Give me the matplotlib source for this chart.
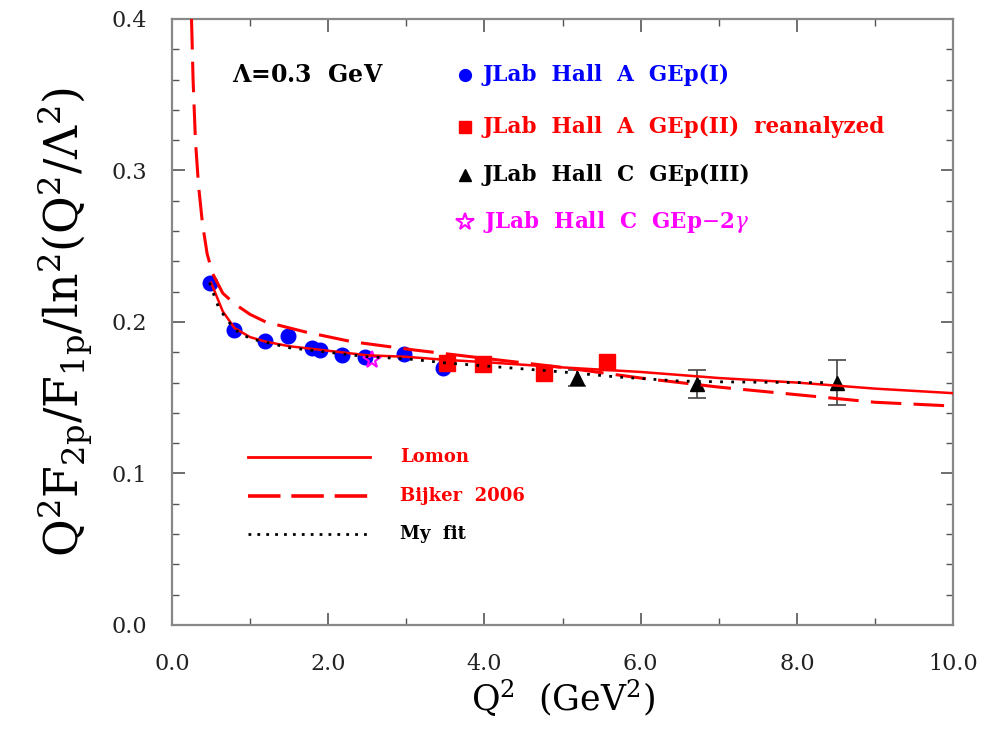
import numpy as np
import matplotlib.pyplot as plt
from matplotlib.ticker import MultipleLocator, FormatStrFormatter

plt.rcParams['mathtext.fontset'] = 'dejavuserif'
plt.rcParams['font.family'] = 'DejaVu Serif'

# data
gep1_q2 = [0.49, 0.79, 1.19, 1.49, 1.79, 1.90, 2.18, 2.47, 2.97, 3.47]
gep1_r = [0.226, 0.195, 0.1875, 0.191, 0.183, 0.1815, 0.178, 0.177, 0.179, 0.1696]

gep2_q2 = [3.52, 3.98, 4.76, 5.57]
gep2_r = [0.173, 0.172, 0.166, 0.1736]

gep3_q2 = [5.19, 6.72, 8.51]
gep3_r = [0.163, 0.159, 0.160]
gep3_err = [0.005, 0.0095, 0.015]

gep2g_q2 = [2.56]
gep2g_r = [0.175]

lomon_q2 = [0.5, 0.65, 0.8, 1.0, 1.2, 1.5, 2.0, 2.5, 3.0, 3.5, 4.0, 5.0, 6.0, 7.0, 8.0, 9.0, 10.0]
lomon_r = [0.226, 0.207, 0.196, 0.190, 0.187, 0.184, 0.181, 0.178, 0.177, 0.175, 0.1735,
           0.170, 0.167, 0.163, 0.160, 0.156, 0.153]

bijker_q2 = [0.25, 0.27, 0.30, 0.34, 0.39, 0.45, 0.52, 0.65, 0.8, 1.0, 1.2, 1.7, 2.3, 3.1,
             4.0, 5.0, 6.0, 7.0, 8.0, 9.0, 10.0]
bijker_r = [0.40, 0.36, 0.32, 0.29, 0.265, 0.245, 0.232, 0.219, 0.212, 0.205, 0.200, 0.1935,
            0.187, 0.1815, 0.176, 0.170, 0.163, 0.157, 0.152, 0.147, 0.1445]

myfit_q2 = [0.48, 0.6, 0.8, 1.0, 1.5, 2.0, 2.5, 3.0, 3.5, 4.0, 5.0, 5.7, 6.5, 7.0, 8.0, 8.4]
myfit_r = [0.226, 0.209, 0.195, 0.189, 0.183, 0.180, 0.177, 0.1757, 0.173, 0.171, 0.167,
           0.1637, 0.161, 0.1605, 0.160, 0.160]

fig = plt.figure(figsize=(9.97, 7.29), dpi=100)
ax = fig.add_axes([0.1725, 0.1427, 0.7835, 0.8313])

ax.plot(gep1_q2, gep1_r, 'o', color='blue', ms=10.5, zorder=2)
ax.plot(gep2_q2, gep2_r, 's', color='red', ms=12, zorder=3)
ax.errorbar(gep3_q2, gep3_r, yerr=gep3_err, fmt='^', color='black', ecolor='#444444',
            ms=10, capsize=6.5, elinewidth=1.2, capthick=1.2, zorder=3)
ax.plot(gep2g_q2, gep2g_r, '*', mfc='none', mec='magenta', mew=1.5, ms=13, zorder=3)

ax.plot(lomon_q2, lomon_r, '-', color='red', lw=1.8, zorder=4)
ax.plot(bijker_q2, bijker_r, color='red', lw=2.2, dashes=(10, 4), zorder=4)
ax.plot(myfit_q2, myfit_r, color='black', lw=2, linestyle=(0, (1, 3)), zorder=5)

# in-plot legend
ax.text(0.77, 0.363, r'$\mathbf{\Lambda}$=0.3  GeV', fontsize=17, fontweight='bold',
        va='center', ha='left')
leg_x, txt_x = 3.75, 3.98
lfs = 15.5
ax.plot([leg_x], [0.363], 'o', color='blue', ms=8.5)
ax.text(txt_x, 0.363, 'JLab  Hall  A  GEp(I)', color='blue', fontsize=lfs,
        fontweight='bold', va='center')
ax.plot([leg_x], [0.329], 's', color='red', ms=8.5)
ax.text(txt_x, 0.329, 'JLab  Hall  A  GEp(II)  reanalyzed', color='red', fontsize=lfs,
        fontweight='bold', va='center')
ax.plot([leg_x], [0.297], '^', color='black', ms=8.5)
ax.text(txt_x, 0.297, 'JLab  Hall  C  GEp(III)', color='black', fontsize=lfs,
        fontweight='bold', va='center')
ax.plot([leg_x], [0.266], '*', mfc='none', mec='magenta', mew=1.5, ms=13)
ax.text(txt_x, 0.266, r'JLab  Hall  C  GEp$-$2$\gamma$', color='magenta', fontsize=lfs,
        fontweight='bold', va='center')

ax.plot([0.97, 2.54], [0.111, 0.111], '-', color='red', lw=2)
ax.text(2.92, 0.111, 'Lomon', color='red', fontsize=13, fontweight='bold', va='center')
ax.plot([0.97, 2.54], [0.085, 0.085], color='red', lw=2.6, dashes=(9, 3))
ax.text(2.92, 0.085, 'Bijker  2006', color='red', fontsize=13, fontweight='bold', va='center')
ax.plot([0.97, 2.54], [0.060, 0.060], color='black', lw=2, linestyle=(0, (1, 2.2)))
ax.text(2.92, 0.060, 'My  fit', color='black', fontsize=13, fontweight='bold', va='center')

ax.set_xlim(0, 10)
ax.set_ylim(0, 0.4)
ax.xaxis.set_major_locator(MultipleLocator(2))
ax.xaxis.set_minor_locator(MultipleLocator(1))
ax.yaxis.set_major_locator(MultipleLocator(0.1))
ax.yaxis.set_minor_locator(MultipleLocator(0.02))
ax.xaxis.set_major_formatter(FormatStrFormatter('%.1f'))
ax.yaxis.set_major_formatter(FormatStrFormatter('%.1f'))
ax.tick_params(which='both', direction='in', top=True, right=True, colors='#555555',
               labelcolor='#222222', labelsize=16)
ax.tick_params(which='major', length=9, width=1.2)
ax.tick_params(axis='x', which='major', pad=20)
ax.tick_params(axis='y', which='major', pad=18)
ax.tick_params(which='minor', length=5, width=1.0)
for s in ax.spines.values():
    s.set_color('#888888')
    s.set_linewidth(1.6)

ax.set_xlabel(r'$\mathrm{Q^2}$  (GeV$^\mathrm{2}$)', fontsize=25, labelpad=2)
ax.set_ylabel(r'$\mathrm{Q^2F_{2p}/F_{1p}/ln^2(Q^2/\Lambda^2)}$', fontsize=33, labelpad=12)

fig.savefig('out.png', dpi=100)
